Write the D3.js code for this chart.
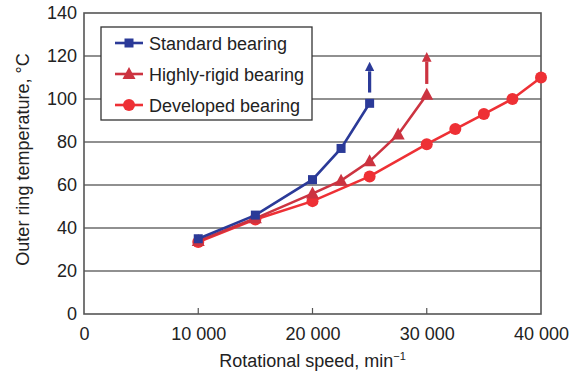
<!DOCTYPE html>
<html>
<head>
<meta charset="utf-8">
<script src="https://cdn.jsdelivr.net/npm/d3@7"></script>
<style>
  body { margin: 0; background: #fff; }
  svg { font-family: "Liberation Sans", Arial, sans-serif; }
</style>
</head>
<body>
<div id="chart"></div>
<script>
const STANDARD_COLOR = "#2B3A98";
const RIGID_COLOR = "#CC3340";
const DEVELOPED_COLOR = "#EE3035";

const xTicks = [0, 10000, 20000, 30000, 40000];
const yTicks = [0, 20, 40, 60, 80, 100, 120, 140];

const standardSpeed = [10000, 15000, 20000, 22500, 25000];
const standardTemp = [35, 46, 62.5, 77, 98];
const rigidSpeed = [10000, 15000, 20000, 22500, 25000, 27500, 30000];
const rigidTemp = [34, 44.5, 56, 62, 71, 83.5, 102];
const developedSpeed = [10000, 15000, 20000, 25000, 30000, 32500, 35000, 37500, 40000];
const developedTemp = [33.5, 44, 52.5, 64, 79, 86, 93, 100, 110];

// arrows: [speed, fromTemp, toTemp]
const arrows = [
    [25000, 103, 118, STANDARD_COLOR],
    [30000, 107, 122.5, RIGID_COLOR]
];

const series = [
    { name: "Standard bearing", xs: standardSpeed, ys: standardTemp, color: STANDARD_COLOR, shape: "square" },
    { name: "Highly-rigid bearing", xs: rigidSpeed, ys: rigidTemp, color: RIGID_COLOR, shape: "triangle" },
    { name: "Developed bearing", xs: developedSpeed, ys: developedTemp, color: DEVELOPED_COLOR, shape: "circle" }
];

const FONT_SIZE = 18;

const W = 577, H = 376;
const margin = { top: 13, right: 36, bottom: 62, left: 84 };
const width = W - margin.left - margin.right;
const height = H - margin.top - margin.bottom;

const svg = d3.select("#chart")
    .append("svg")
    .attr("width", W)
    .attr("height", H);

const g = svg.append("g")
    .attr("transform", "translate(" + margin.left + "," + margin.top + ")");

const x = d3.scaleLinear().domain([0, 40000]).range([0, width]);
const y = d3.scaleLinear().domain([0, 140]).range([height, 0]);

// gridlines
g.append("g")
    .selectAll("line")
    .data(yTicks.slice(1, -1))
    .join("line")
    .attr("x1", 0)
    .attr("x2", width)
    .attr("y1", d => y(d))
    .attr("y2", d => y(d))
    .attr("stroke", "#222")
    .attr("stroke-width", 1.1);

// frame
g.append("rect")
    .attr("width", width)
    .attr("height", height)
    .attr("fill", "none")
    .attr("stroke", "#555")
    .attr("stroke-width", 1.6);

const xAxis = d3.axisBottom(x)
    .tickValues(xTicks)
    .tickSize(0)
    .tickPadding(13)
    .tickFormat(d => d3.format(",")(d).replace(",", " "));

g.append("g")
    .attr("transform", "translate(0," + height + ")")
    .call(xAxis)
    .call(a => a.select(".domain").remove())
    .selectAll("text")
    .attr("font-size", FONT_SIZE)
    .attr("font-family", "Liberation Sans, Arial, sans-serif")
    .attr("fill", "#222");

// small inner tick marks on bottom
g.append("g")
    .selectAll("line")
    .data(xTicks.slice(1, -1))
    .join("line")
    .attr("x1", d => x(d))
    .attr("x2", d => x(d))
    .attr("y1", height)
    .attr("y2", height - 6)
    .attr("stroke", "#555")
    .attr("stroke-width", 1.2);

const yAxis = d3.axisLeft(y)
    .tickValues(yTicks)
    .tickSize(0)
    .tickPadding(7);

g.append("g")
    .call(yAxis)
    .call(a => a.select(".domain").remove())
    .selectAll("text")
    .attr("font-size", FONT_SIZE)
    .attr("font-family", "Liberation Sans, Arial, sans-serif")
    .attr("fill", "#222");

// axis titles
const xLabel = svg.append("text")
    .attr("x", margin.left + width / 2)
    .attr("y", 367)
    .attr("text-anchor", "middle")
    .attr("font-size", FONT_SIZE)
    .attr("fill", "#222");
xLabel.append("tspan").text("Rotational speed, min");
xLabel.append("tspan").attr("dy", -7).attr("font-size", 11).text("\u22121");

svg.append("text")
    .attr("transform", "translate(29," + (margin.top + height / 2 - 4) + ") rotate(-90)")
    .attr("text-anchor", "middle")
    .attr("font-size", FONT_SIZE)
    .attr("fill", "#222")
    .text("Outer ring temperature, \u00B0C");

function drawMarker(sel, shape, color) {
    if (shape === "square") {
        sel.append("rect")
            .attr("x", -4.5).attr("y", -4.5)
            .attr("width", 9).attr("height", 9)
            .attr("fill", color);
    } else if (shape === "triangle") {
        sel.append("path")
            .attr("d", "M0,-7L6.5,5L-6.5,5Z")
            .attr("fill", color);
    } else {
        sel.append("circle")
            .attr("r", 6)
            .attr("fill", color);
    }
}

// arrows
const defs = svg.append("defs");
arrows.forEach((a, i) => {
    defs.append("marker")
        .attr("id", "arrow" + i)
        .attr("viewBox", "0 0 10 10")
        .attr("refX", 0)
        .attr("refY", 5)
        .attr("markerWidth", 3)
        .attr("markerHeight", 3)
        .attr("markerUnits", "strokeWidth")
        .attr("orient", "auto")
        .append("path")
        .attr("d", "M0,0L10,5L0,10Z")
        .attr("fill", a[3]);
    g.append("line")
        .attr("x1", x(a[0]))
        .attr("x2", x(a[0]))
        .attr("y1", y(a[1]))
        .attr("y2", y(a[2]) + 11)
        .attr("stroke", a[3])
        .attr("stroke-width", 3.2)
        .attr("marker-end", "url(#arrow" + i + ")");
});

// lines + markers
const line = d3.line().x(d => x(d[0])).y(d => y(d[1]));
series.slice().reverse().forEach(s => {
    const pts = s.xs.map((v, i) => [v, s.ys[i]]);
    g.append("path")
        .datum(pts)
        .attr("d", line)
        .attr("fill", "none")
        .attr("stroke", s.color)
        .attr("stroke-width", 2.6);
    g.append("g")
        .selectAll("g")
        .data(pts)
        .join("g")
        .attr("transform", d => "translate(" + x(d[0]) + "," + y(d[1]) + ")")
        .each(function () { drawMarker(d3.select(this), s.shape, s.color); });
});

// legend
const legend = svg.append("g").attr("transform", "translate(101,27)");
legend.append("rect")
    .attr("width", 211)
    .attr("height", 93)
    .attr("fill", "#fff")
    .attr("stroke", "#333")
    .attr("stroke-width", 1.3);

series.forEach((s, i) => {
    const row = legend.append("g").attr("transform", "translate(0," + (16 + i * 31) + ")");
    row.append("line")
        .attr("x1", 14).attr("x2", 42)
        .attr("stroke", s.color).attr("stroke-width", 2.6);
    const m = row.append("g").attr("transform", "translate(28,0)");
    drawMarker(m, s.shape, s.color);
    row.append("text")
        .attr("x", 48)
        .attr("y", 6.5)
        .attr("font-size", FONT_SIZE)
        .attr("fill", "#222")
        .text(s.name);
});
</script>
</body>
</html>
